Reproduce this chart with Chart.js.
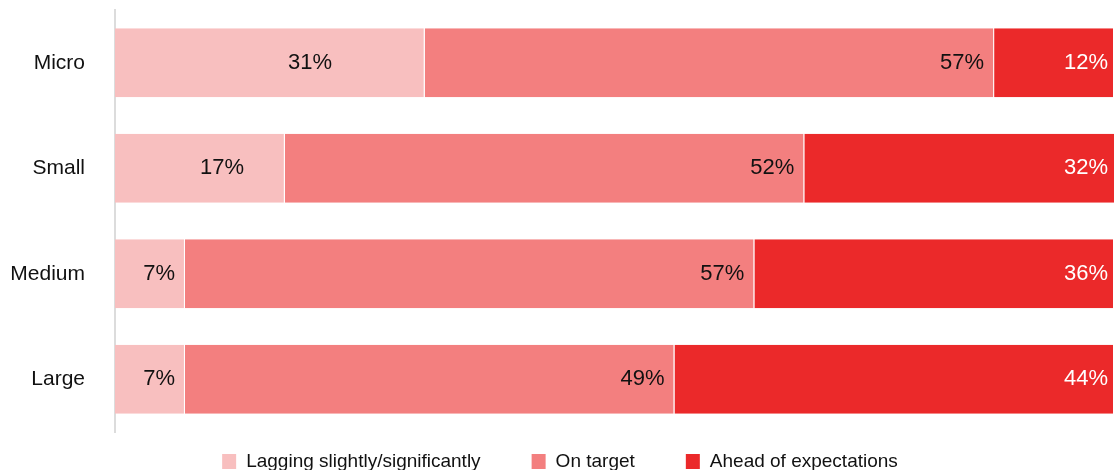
<!DOCTYPE html>
<html>
<head>
<meta charset="utf-8">
<script src="https://cdn.jsdelivr.net/npm/chart.js@4/dist/chart.umd.min.js"></script>
<style>
  html, body { margin: 0; padding: 0; background: #fff; }
  #wrap { width: 1114px; height: 470px; position: relative; }
</style>
</head>
<body>
<div id="wrap"><canvas id="myChart"></canvas></div>
<script>
const categories = ['Micro', 'Small', 'Medium', 'Large'];
const seriesNames = ['Lagging slightly/significantly', 'On target', 'Ahead of expectations'];
const lagging = [31, 17, 7, 7];
const onTarget = [57, 52, 57, 49];
const ahead = [12, 32, 36, 44];
const colores = ['#f8bfbf', '#f37f7f', '#eb292a'];

const FONT = "'Liberation Sans', Arial, sans-serif";

// percent labels on each segment
const etiquetas = {
  id: 'etiquetas',
  afterDatasetsDraw(chart) {
    const ctx = chart.ctx;
    const area = chart.chartArea;
    ctx.save();
    ctx.font = '22px ' + FONT;
    ctx.textBaseline = 'middle';
    chart.data.datasets.forEach((ds, i) => {
      const meta = chart.getDatasetMeta(i);
      meta.data.forEach((bar, j) => {
        const txt = ds.data[j] + '%';
        const fin = Math.min(bar.x, area.right);
        if (i === 0) {
          ctx.fillStyle = '#111';
          ctx.textAlign = 'center';
          ctx.fillText(txt, bar.base + (fin - bar.base) * 0.63, bar.y);
        } else if (i === 1) {
          ctx.fillStyle = '#111';
          ctx.textAlign = 'right';
          ctx.fillText(txt, fin - 10, bar.y);
        } else {
          ctx.fillStyle = '#fff';
          ctx.textAlign = 'right';
          ctx.fillText(txt, fin - 6, bar.y);
        }
      });
    });
    ctx.restore();
  }
};

// legend row under the bars
const leyenda = {
  id: 'leyenda',
  afterDraw(chart) {
    const ctx = chart.ctx;
    const box = 14, gapTexto = 10, gapItem = 51;
    ctx.save();
    ctx.font = '19px ' + FONT;
    ctx.textBaseline = 'middle';
    ctx.textAlign = 'left';
    const items = chart.data.datasets.map(ds => ({
      text: ds.label, color: ds.backgroundColor, w: box + gapTexto + ctx.measureText(ds.label).width
    }));
    const total = items.reduce((acc, it) => acc + it.w, 0) + gapItem * (items.length - 1);
    let x = 560 - total / 2;
    const y = 461.5;
    items.forEach(it => {
      ctx.fillStyle = it.color;
      ctx.fillRect(x, y - 7.5, box, 15);
      ctx.fillStyle = '#111';
      ctx.fillText(it.text, x + box + gapTexto, y);
      x += it.w + gapItem;
    });
    ctx.restore();
  }
};

const ctx = document.getElementById('myChart').getContext('2d');
const myChart = new Chart(ctx, {
  type: 'bar',
  data: {
    labels: categories,
    datasets: [lagging, onTarget, ahead].map((vals, i) => ({
      label: seriesNames[i],
      data: vals,
      backgroundColor: colores[i],
      borderColor: '#ffffff',
      borderWidth: { left: 0, right: 1, top: 0, bottom: 0 },
      borderSkipped: false,
      barPercentage: 0.655,
      categoryPercentage: 1
    }))
  },
  options: {
    indexAxis: 'y',
    responsive: true,
    maintainAspectRatio: false,
    animation: false,
    layout: { padding: { top: 10, bottom: 38, left: 0, right: 0 } },
    scales: {
      x: { stacked: true, min: 0, max: 100, display: false },
      y: {
        stacked: true,
        grid: { display: false, drawTicks: false },
        border: { display: true, color: '#dcdcdc', width: 2 },
        ticks: { color: '#111', font: { size: 21, family: FONT }, padding: 30 },
        afterFit: scale => {
          scale.width = 115;
          scale.paddingTop = 0;
          scale.paddingBottom = 0;
        }
      }
    },
    plugins: {
      legend: { display: false },
      tooltip: { enabled: false }
    }
  },
  plugins: [etiquetas, leyenda]
});
</script>
</body>
</html>
